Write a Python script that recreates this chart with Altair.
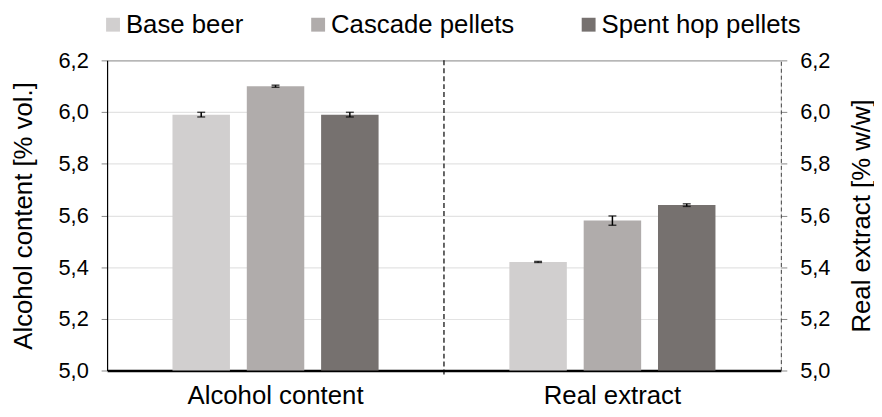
import altair as alt
import pandas as pd

groups = ["Alcohol content", "Real extract"]
series = ["Base beer", "Cascade pellets", "Spent hop pellets"]
colors = ["#d1cfcf", "#b0acab", "#76716f"]
alcohol_values = [5.99, 6.10, 5.99]
alcohol_errors = [0.009, 0.004, 0.009]
extract_values = [5.42, 5.58, 5.64]
extract_errors = [0.002, 0.018, 0.005]
y_ticks = [5.0, 5.2, 5.4, 5.6, 5.8, 6.0, 6.2]

rows = []
for g, vals, errs in [(groups[0], alcohol_values, alcohol_errors),
                      (groups[1], extract_values, extract_errors)]:
    for s, v, e in zip(series, vals, errs):
        rows.append({"group": g, "series": s, "value": v,
                     "lo": v - e, "hi": v + e})
df = pd.DataFrame(rows)
div_df = pd.DataFrame({"group": [groups[1]]})

FONT = "Liberation Sans"
label_expr = "replace(format(datum.value, '.1f'), '.', ',')"

x_enc = alt.X("group:N", sort=groups,
              scale=alt.Scale(domain=groups, paddingInner=0, paddingOuter=0),
              axis=alt.Axis(title=None, labelFontSize=26, labelColor="#000",
                            labelFont=FONT, labelPadding=12, ticks=False,
                            domainColor="#000", domainWidth=2.5, labelAngle=0))
xoff = alt.XOffset("series:N", sort=series,
                   scale=alt.Scale(domain=series, paddingInner=0.2267,
                                   paddingOuter=0.88))
y_scale = alt.Scale(domain=[5.0, 6.2], nice=False, zero=False)

grid_color = {"condition": {"test": "datum.value > 6.15", "value": "#a6a6a6"},
              "value": "#e3e3e3"}

left_axis = alt.Axis(values=y_ticks, labelExpr=label_expr, title="Alcohol content [% vol.]",
                     titleFontSize=26, titleFontWeight="normal", titleFont=FONT,
                     titleColor="#000", labelFont=FONT, labelFontSize=22, labelColor="#000",
                     labelPadding=13, tickSize=6, tickColor="#888", grid=True,
                     gridColor=grid_color, gridWidth=1.2, domainColor="#000",
                     domainWidth=1.2, titlePadding=22)
right_axis = alt.Axis(values=y_ticks, labelExpr=label_expr, title="Real extract [% w/w]",
                      orient="right", titleFontSize=26, titleFontWeight="normal",
                      titleFont=FONT, titleColor="#000", labelFont=FONT,
                      labelFontSize=22, labelColor="#000", labelPadding=13, tickSize=6,
                      tickColor="#888", grid=False, domainColor="#444",
                      domainDash=[4, 3], domainWidth=1, titlePadding=19,
                      titleAngle=270, titleBaseline="top")

bars = alt.Chart(df).mark_bar(clip=True).encode(
    x=x_enc, xOffset=xoff,
    y=alt.Y("value:Q", scale=y_scale, axis=left_axis),
    color=alt.Color("series:N", sort=series,
                    scale=alt.Scale(domain=series, range=colors),
                    legend=alt.Legend(title=None, orient="none", direction="horizontal",
                                      legendX=-7, legendY=-49, symbolType="square",
                                      symbolSize=196, symbolStrokeWidth=0,
                                      labelFontSize=26, labelFont=FONT, labelColor="#000",
                                      labelLimit=0, columnPadding=62, labelOffset=0,
                                      symbolOffset=0)),
)
err = alt.Chart(df).mark_rule(color="#000", strokeWidth=1.5).encode(
    x=x_enc, xOffset=xoff, y=alt.Y("lo:Q", scale=y_scale), y2="hi:Q")
cap_lo = alt.Chart(df).mark_tick(color="#000", thickness=1.5, size=8,
                                 orient="horizontal").encode(
    x=x_enc, xOffset=xoff, y=alt.Y("lo:Q", scale=y_scale))
cap_hi = alt.Chart(df).mark_tick(color="#000", thickness=1.5, size=8,
                                 orient="horizontal").encode(
    x=x_enc, xOffset=xoff, y=alt.Y("hi:Q", scale=y_scale))

divider = alt.Chart(div_df).mark_rule(color="#000", strokeDash=[5, 3],
                                      strokeWidth=1.2).encode(
    x=alt.X("group:N", sort=groups, bandPosition=0), y=alt.value(0), y2=alt.value(319))

left_layer = alt.layer(bars, err, cap_lo, cap_hi, divider)

right_layer = alt.Chart(df).mark_point(opacity=0).encode(
    x=x_enc, y=alt.Y("value:Q", scale=y_scale, axis=right_axis))

chart = alt.layer(left_layer, right_layer).resolve_scale(y="independent").properties(
    width=680, height=313,
    autosize=alt.AutoSizeParams(type="none"),
    padding={"left": 100, "top": 51, "right": 94, "bottom": 37},
).configure_view(stroke=None).configure(font=FONT)

chart.save("out.html", embed_options={"renderer": "svg", "actions": False})
